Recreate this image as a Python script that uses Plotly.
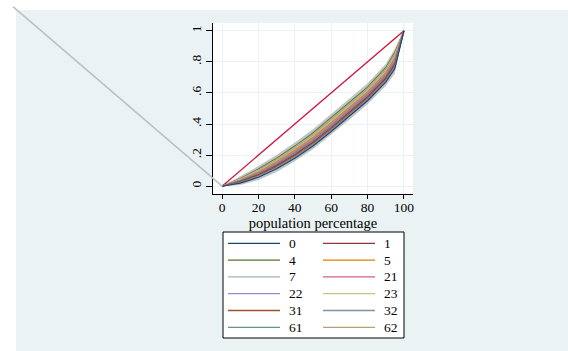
import plotly.graph_objects as go

# Population share (x) and cumulative income share (y) for each group
pop_pct = [0, 10, 20, 30, 40, 50, 60, 70, 80, 90, 95, 100]

groups = ["0", "1", "4", "5", "7", "21", "22", "23", "31", "32", "61", "62"]

lorenz = {
    "4":  [0, .050, .110, .180, .258, .342, .440, .537, .637, .762, .862, 1],
    "7":  [0, .047, .105, .174, .251, .335, .432, .529, .629, .754, .852, 1],
    "62": [0, .045, .101, .169, .245, .328, .425, .522, .622, .746, .843, 1],
    "23": [0, .043, .097, .163, .238, .321, .417, .514, .614, .738, .834, 1],
    "5":  [0, .040, .092, .157, .231, .313, .409, .506, .606, .729, .824, 1],
    "22": [0, .038, .088, .151, .224, .306, .401, .498, .598, .721, .814, 1],
    "21": [0, .035, .083, .145, .217, .298, .393, .490, .590, .712, .805, 1],
    "61": [0, .033, .079, .139, .210, .291, .385, .482, .582, .704, .795, 1],
    "1":  [0, .030, .074, .133, .203, .283, .377, .474, .574, .695, .786, 1],
    "31": [0, .027, .069, .126, .195, .275, .368, .466, .566, .686, .776, 1],
    "32": [0, .024, .064, .119, .188, .267, .360, .458, .558, .678, .767, 1],
    "0":  [0, .020, .058, .112, .180, .259, .352, .450, .550, .670, .757, 1],
}

# Confidence envelope around the curves
band_lower = [0, .008, .040, .092, .160, .238, .330, .428, .528, .645, .725, 1]
band_upper = [0, .065, .130, .203, .282, .367, .465, .562, .662, .787, .885, 1]

# Line of equality
equality_x = [0, 100]
equality_y = [0, 1]

# Stray reference segment running off the plot region (data units)
stray_x = [-115, 0]
stray_y = [1.155, 0]

x_ticks = [0, 20, 40, 60, 80, 100]
y_ticks = [0, 0.2, 0.4, 0.6, 0.8, 1]
y_ticktext = ["0", ".2", ".4", ".6", ".8", "1"]

colors = {
    "0": "#1a476f", "1": "#90353b", "4": "#55752f", "5": "#e37e00",
    "7": "#9fb7ae", "21": "#d0607f", "22": "#938dd2", "23": "#cac27e",
    "31": "#a0522d", "32": "#7b92a8", "61": "#5e958c", "62": "#b4a274",
}

X_RANGE = [-5, 105]
Y_RANGE = [-0.05, 1.05]

# figure geometry (px)
W, H = 568, 351
M_L, M_R, M_T, M_B = 213, 155, 23, 157
PW, PH = W - M_L - M_R, H - M_T - M_B


def px_x(p):
    return (p - M_L) / PW


def px_y(p):
    return (H - M_B - p) / PH


def to_paper(v, rng):
    return (v - rng[0]) / (rng[1] - rng[0])


fig = go.Figure()

fig.add_trace(go.Scatter(
    x=pop_pct + pop_pct[::-1], y=band_upper + band_lower[::-1],
    fill="toself", fillcolor="#c3c3c3", line=dict(width=0),
    mode="lines", showlegend=False, hoverinfo="skip"))

fig.add_trace(go.Scatter(
    x=equality_x, y=equality_y, mode="lines",
    line=dict(color="#d0103a", width=1.3), showlegend=False))

draw_order = ["4", "7", "62", "23", "5", "22", "21", "61", "1", "31", "32", "0"]
for g in draw_order:
    fig.add_trace(go.Scatter(
        x=pop_pct, y=lorenz[g], mode="lines", name=g,
        line=dict(color=colors[g], width=1.2), showlegend=False))

shapes = [
    # outer graph region
    dict(type="rect", xref="paper", yref="paper",
         x0=px_x(16), x1=px_x(W + 5), y0=px_y(H + 5), y1=px_y(10),
         fillcolor="#eaf2f3", line=dict(width=0), layer="below"),
    # plot region
    dict(type="rect", xref="paper", yref="paper",
         x0=0, x1=1, y0=0, y1=1,
         fillcolor="white", line=dict(width=0), layer="below"),
    dict(type="line", xref="paper", yref="paper",
         x0=to_paper(stray_x[0], X_RANGE), y0=to_paper(stray_y[0], Y_RANGE),
         x1=to_paper(stray_x[1], X_RANGE), y1=to_paper(stray_y[1], Y_RANGE),
         line=dict(color="#c0c0c0", width=1.6)),
]

# Key: two columns, filled row by row
LEG_L, LEG_R, LEG_T, LEG_B = 223, 404, 232, 338
ROW0, ROW_STEP = 243.3, 16.8
COL_LINE = [228, 323]
LINE_LEN = 52
COL_TEXT = [287, 382]

shapes.append(dict(type="rect", xref="paper", yref="paper",
                   x0=px_x(LEG_L), x1=px_x(LEG_R),
                   y0=px_y(LEG_B), y1=px_y(LEG_T),
                   fillcolor="white", line=dict(color="black", width=1)))

annotations = []
legend_font = dict(family="Liberation Serif", size=13.5, color="black")
for i, g in enumerate(groups):
    row, col = divmod(i, 2)
    yc = ROW0 + row * ROW_STEP
    shapes.append(dict(type="line", xref="paper", yref="paper",
                       x0=px_x(COL_LINE[col]), x1=px_x(COL_LINE[col] + LINE_LEN),
                       y0=px_y(yc), y1=px_y(yc),
                       line=dict(color=colors[g], width=1.3)))
    annotations.append(dict(xref="paper", yref="paper",
                            x=px_x(COL_TEXT[col]), y=px_y(yc),
                            xanchor="left", yanchor="middle", align="left",
                            text=g, showarrow=False, font=legend_font))

tick_font = dict(family="Liberation Serif", size=13.5, color="black")
title_font = dict(family="Liberation Serif", size=14.5, color="black")

fig.update_layout(
    width=W, height=H,
    margin=dict(l=M_L, r=M_R, t=M_T, b=M_B, autoexpand=False),
    paper_bgcolor="white", plot_bgcolor="white",
    font=tick_font, showlegend=False,
    shapes=shapes, annotations=annotations,
    xaxis=dict(range=X_RANGE, tickvals=x_ticks, showgrid=True,
               gridcolor="#eaf2f3", gridwidth=1.2, zeroline=False,
               showline=True, linecolor="black", linewidth=1,
               ticks="outside", ticklen=4, tickcolor="black",
               ticklabelstandoff=-3,
               title=dict(text="population percentage", standoff=0,
                          font=title_font),
               tickfont=tick_font),
    yaxis=dict(range=Y_RANGE, tickvals=y_ticks, ticktext=y_ticktext,
               tickangle=-90, showgrid=True, gridcolor="#eaf2f3",
               gridwidth=1.2, zeroline=False, showline=True,
               linecolor="black", linewidth=1, ticks="outside",
               ticklen=6, tickcolor="black", tickfont=tick_font),
)

fig.write_html("out.html")
